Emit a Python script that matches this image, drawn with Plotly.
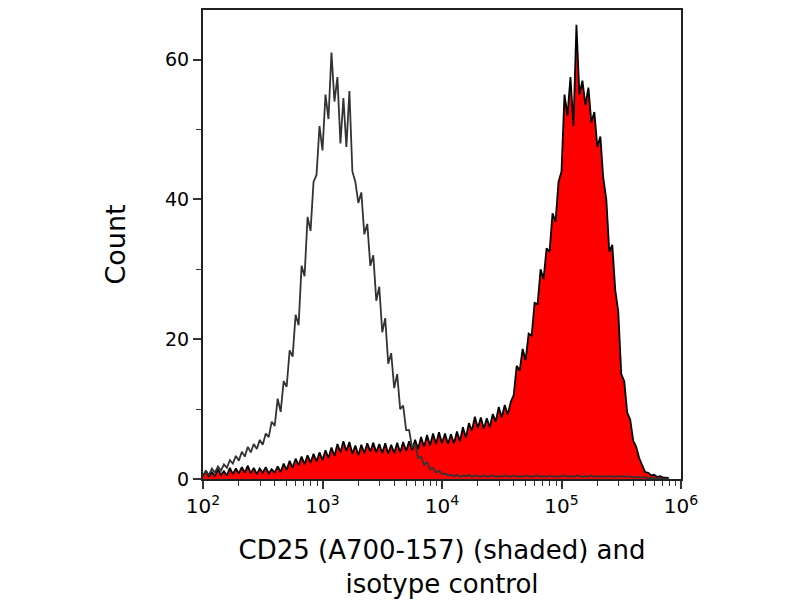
import plotly.graph_objects as go

# log10 channel positions, one bin every 0.025 decade from 10^2 to 10^5.9
log_bins = [round(2 + 0.025 * i, 3) for i in range(157)]
intensity = [10 ** e for e in log_bins]

# CD25 (A700-157) stained, shaded histogram
cd25_counts = [
    0.5, 1.2, 0.3, 1.0, 0.4, 1.4, 0.6, 1.1, 0.5, 1.6,
    0.7, 1.5, 0.8, 1.7, 0.9, 1.9, 0.8, 1.6, 0.7, 1.5,
    0.9, 1.7, 0.8, 1.4, 0.9, 1.8, 1.0, 2.2, 1.3, 2.6,
    1.6, 2.9, 2.0, 3.2, 2.1, 3.4, 2.3, 3.6, 2.5, 3.8,
    2.7, 4.1, 3.0, 4.5, 3.3, 5.0, 3.8, 5.4, 4.0, 5.3,
    3.6, 4.8, 3.4, 4.9, 3.7, 5.1, 3.9, 5.2, 3.8, 5.0,
    3.7, 5.1, 3.6, 4.9, 3.7, 5.2, 3.8, 5.3, 4.0, 5.4,
    4.1, 5.6, 4.3, 6.0, 4.6, 6.3, 4.8, 6.5, 5.0, 6.7,
    5.1, 6.5, 5.0, 6.4, 5.1, 6.8, 5.4, 7.4, 5.9, 8.0,
    6.9, 8.9, 7.3, 8.8, 7.2, 8.7, 7.4, 9.3, 8.2, 10.3,
    8.8, 10.6, 9.2, 11.0, 12.0, 16.2, 15.5, 18.6, 17.0, 20.8,
    20.5, 25.2, 25.0, 30.0, 28.6, 33.0, 32.5, 38.0, 36.8, 42.5,
    44.0, 55.0, 52.0, 57.5, 50.5, 65.0, 55.0, 57.0, 53.5, 56.0,
    51.0, 52.5, 47.5, 49.0, 43.0, 40.0, 32.5, 33.5, 27.0, 24.0,
    15.0, 14.0, 9.5, 8.5, 5.5, 4.6, 3.0, 2.0, 1.0, 0.9,
    0.5, 0.6, 0.3, 0.4, 0.2, 0.2, 0.1,
]

# isotype control, open histogram
isotype_counts = [
    0.4, 1.1, 0.6, 1.5, 0.9, 1.8, 1.2, 2.1, 1.6, 2.7,
    2.2, 3.3, 2.6, 3.9, 3.2, 4.6, 3.8, 5.0, 4.3, 5.6,
    4.9, 6.5, 6.0, 8.2, 7.6, 11.5, 9.6, 14.0, 13.2, 18.4,
    17.5, 23.5, 22.0, 30.5, 29.0, 37.5, 35.5, 42.5, 43.5, 50.5,
    47.0, 55.0, 51.5, 61.0, 54.0, 57.5, 48.0, 54.5, 47.5, 55.5,
    44.0, 42.5, 39.5, 41.0, 35.0, 36.5, 30.5, 32.0, 25.5, 27.5,
    21.0, 23.0, 16.5, 18.0, 13.0, 15.0, 10.0, 10.5, 7.0, 7.0,
    4.5, 5.0, 3.0, 3.2, 2.0, 2.4, 1.4, 1.6, 0.9, 1.2,
    0.7, 0.8, 0.5, 0.6, 0.4, 0.6, 0.3, 0.5, 0.4, 0.6,
    0.3, 0.5, 0.4, 0.3, 0.5, 0.3, 0.4, 0.5, 0.3, 0.4,
    0.3, 0.5, 0.4, 0.3, 0.5, 0.3, 0.4, 0.3, 0.5, 0.4,
    0.3, 0.4, 0.5, 0.3, 0.4, 0.3, 0.5, 0.3, 0.4, 0.3,
    0.4, 0.5, 0.3, 0.4, 0.3, 0.5, 0.4, 0.3, 0.4, 0.3,
    0.5, 0.3, 0.4, 0.3, 0.4, 0.3, 0.4, 0.3, 0.3, 0.4,
    0.3, 0.3, 0.4, 0.3, 0.2, 0.3, 0.2, 0.2, 0.3, 0.1,
    0.2, 0.1, 0.0, 0.0, 0.0, 0.0, 0.0,
]

x_tickvals = [1e2, 1e3, 1e4, 1e5, 1e6]
x_ticktext = ['10<sup>2</sup>', '10<sup>3</sup>', '10<sup>4</sup>',
              '10<sup>5</sup>', '10<sup>6</sup>']
y_tickvals = [0, 20, 40, 60]

# minor log ticks at 2..9 of each decade
x_minor = [m * 10 ** d for d in range(2, 6) for m in range(2, 10)]

fig = go.Figure()

fig.add_trace(go.Scatter(
    x=intensity, y=cd25_counts,
    mode='lines', fill='tozeroy', fillcolor='#ff0000',
    line=dict(color='black', width=1.8),
    showlegend=False, hoverinfo='skip'
))

fig.add_trace(go.Scatter(
    x=intensity, y=isotype_counts,
    mode='lines',
    line=dict(color='#333333', width=1.8),
    showlegend=False, hoverinfo='skip'
))

# page body adds 8px, so margins are offset to land the frame where the reference has it
fig.update_layout(
    width=800, height=600,
    margin=dict(l=195, r=127, t=0, b=129),
    paper_bgcolor='white', plot_bgcolor='white',
    font=dict(family='DejaVu Sans', color='black', size=20),
)

fig.update_xaxes(
    type='log', range=[2, 6],
    tickvals=x_tickvals, ticktext=x_ticktext,
    ticks='outside', ticklen=8, tickwidth=1.5, tickcolor='#333',
    minor=dict(ticks='outside', ticklen=5, tickwidth=1.2, tickcolor='#333',
               tickvals=x_minor, showgrid=False),
    showline=True, linecolor='#222', linewidth=2, mirror=True,
    showgrid=False, zeroline=False,
    tickfont=dict(size=20),
    title=dict(text='CD25 (A700-157) (shaded) and<br>isotype control',
               font=dict(size=26), standoff=24),
)

fig.update_yaxes(
    range=[0, 67.1],
    tickvals=y_tickvals,
    ticks='outside', ticklen=8, tickwidth=1.5, tickcolor='#333',
    minor=dict(ticks='outside', ticklen=5, tickwidth=1.2, tickcolor='#333',
               tickvals=[10, 30, 50], showgrid=False),
    showline=True, linecolor='#222', linewidth=2, mirror=True,
    showgrid=False, zeroline=False,
    tickfont=dict(size=19),
    title=dict(text='Count', font=dict(size=27), standoff=32),
)

fig.write_html("out.html")
